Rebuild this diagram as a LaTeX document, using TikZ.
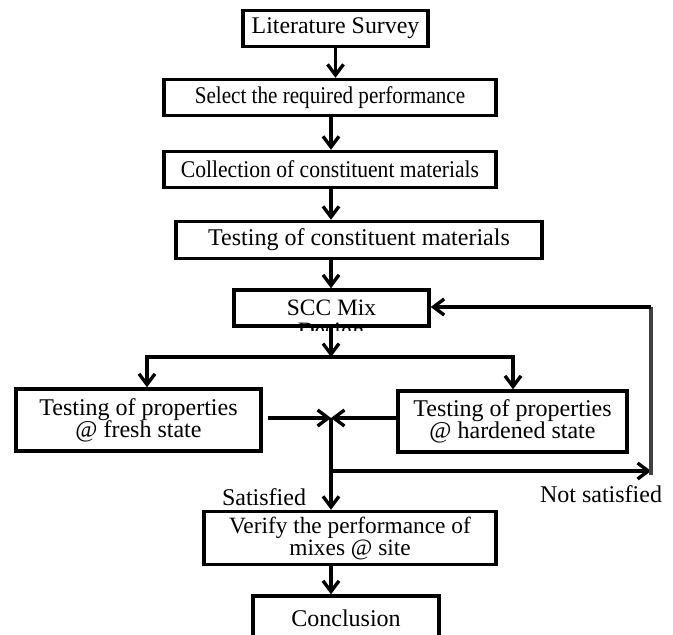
\documentclass[tikz,border=0pt]{standalone}
\usepackage{graphicx}
\usepackage{fontspec}
\setmainfont{Liberation Serif}
\usetikzlibrary{arrows.meta}
\newcommand{\fsb}[2]{\fontsize{#1}{#2}\selectfont\lineskiplimit=-30pt\relax}
\newcommand{\fs}[1]{\fsb{#1}{16.5}}
\begin{document}
\begin{tikzpicture}[x=0.75pt,y=-0.75pt,
  box/.style={draw,line width=2.6pt,inner sep=0pt,font=\fs{18},align=center},
  arr/.style={line width=2.5pt,-{Straight Barb[length=8pt,width=12pt]}},
  ln/.style={line width=2.5pt},
  lbl/.style={font=\fs{18},inner sep=0pt}]
\useasboundingbox (0,0) rectangle (673,634);
\coordinate (sp) at (331,0);
% boxes
\node[box,font=\fs{17.9},minimum width=138.75pt,minimum height=27pt] (ls) at (335.5,28.5) {Literature Survey};
\node[box,font=\fs{18},minimum width=249pt,minimum height=27pt] (sel) at (330,97.5) {\scalebox{0.88}[1]{Select the required performance}};
\node[box,font=\fs{18},minimum width=249pt,minimum height=27pt] (col) at (330,169.5) {\scalebox{0.9}[1]{Collection of constituent materials}};
\node[box,font=\fs{18},minimum width=274.5pt,minimum height=27.75pt] (tst) at (359,240) {Testing of constituent materials};
\node[box,font=\fs{17.6},minimum width=146.25pt,minimum height=27pt] (scc) at (331.5,308) {SCC Mix};
\begin{scope}
\clip ([shift={(2pt,-2pt)}]scc.south west) rectangle (scc.north east);
\node[lbl,font=\fs{17.6},anchor=base] (dsg) at (331,338) {Design};
\end{scope}
\node[box,font=\fsb{18}{16.5},minimum width=183.75pt,minimum height=46.5pt] (fr) at (138.5,420) {Testing of properties\\@ fresh state};
\node[box,font=\fsb{18}{16.5},minimum width=171.75pt,minimum height=45.75pt] (hd) at (512.5,421.5) {Testing of properties\\@ hardened state};
\node[box,minimum width=219pt,minimum height=39.75pt,font=\fsb{17.5}{16.5}] (ver) at (350,538) {Verify the performance of\\mixes @ site};
\node[box,minimum width=139.5pt,minimum height=33.75pt] (con) at (346,618.5) {Conclusion};
% labels
\node[lbl] (sat) at (264,497) {Satisfied};
\node[lbl] (nsat) at (601,494) {Not satisfied};
% coordinates
\coordinate (br) at (331,357);
\coordinate (brL) at (147,357);
\coordinate (brR) at (513,357);
\coordinate (J) at (331,418);
\coordinate (frs) at (268,418);
\coordinate (ns) at (331,471);
\coordinate (fb) at (651,471);
\coordinate (fbb) at (651,475);
\coordinate (fbt) at (651,307);
% spine arrows
\draw[arr] (ls.south) -- (ls.south |- sel.north);
\draw[arr] (sel.south -| sp) -- (col.north -| sp);
\draw[arr] (col.south -| sp) -- (tst.north -| sp);
\draw[arr] (tst.south -| sp) -- (scc.north -| sp);
\draw[arr] (scc.south -| sp) -- (br);
\draw[ln,{Straight Barb[length=8pt,width=12pt]}-{Straight Barb[length=8pt,width=12pt]}] (fr.north -| brL) -- (brL) -- (brR) -- (hd.north -| brR);
% join
\draw[arr] (frs) -- (J);
\draw[arr] (hd.west |- J) -- (J);
\draw[arr] (J) -- (J |- ver.north);
\draw[arr] (ver.south -| sp) -- (con.north -| sp);
% feedback
\draw[arr] (ns) -- (fb);
\draw[line width=3.2pt,black!75] (fbb) -- (fbt);
\draw[arr] (fbt) -- (scc.east |- fbt);
\end{tikzpicture}
\end{document}
